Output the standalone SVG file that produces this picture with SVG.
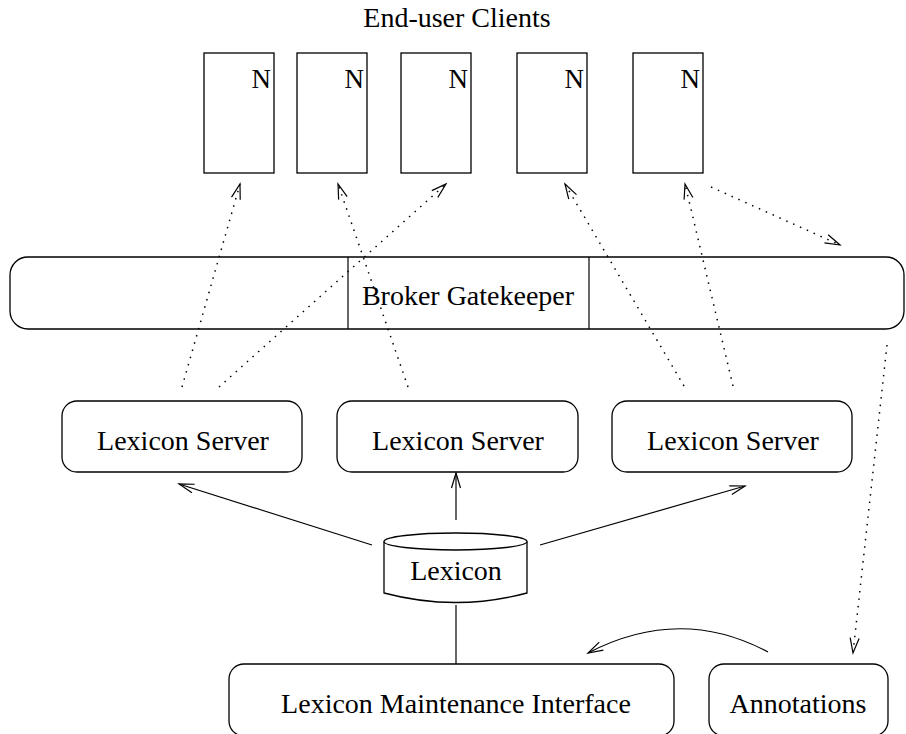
<svg xmlns="http://www.w3.org/2000/svg" width="906" height="734" viewBox="0 0 906 734">
<defs>
<style>
.box{fill:#fff;stroke:#000;stroke-width:1.3}
.t{font-family:"Liberation Serif","Times New Roman",serif;font-size:28px;fill:#000}
.n{font-family:"Liberation Serif","Times New Roman",serif;font-size:27px;fill:#000;text-anchor:end}
.c{text-anchor:middle}
.solid{fill:none;stroke:#000;stroke-width:1.2}
.dot{fill:none;stroke:#000;stroke-width:1.5;stroke-dasharray:1.5 6}
</style>
<marker id="ah" viewBox="-16 -6 18 12" markerWidth="18" markerHeight="12" refX="0" refY="0" orient="auto" markerUnits="userSpaceOnUse">
<path d="M-15,-4.5 L0,0 L-15,4.5" fill="none" stroke="#000" stroke-width="1.2"/>
</marker>
</defs>
<rect width="906" height="734" fill="#fff"/>

<text class="t c" x="457" y="27">End-user Clients</text>

<g id="client1"><rect class="box" x="204" y="53" width="70" height="120"/><text class="n" x="271" y="88">N</text></g>
<g id="client2"><rect class="box" x="297" y="53" width="70" height="120"/><text class="n" x="364" y="88">N</text></g>
<g id="client3"><rect class="box" x="401" y="53" width="70" height="120"/><text class="n" x="468" y="88">N</text></g>
<g id="client4"><rect class="box" x="517" y="53" width="70" height="120"/><text class="n" x="584" y="88">N</text></g>
<g id="client5"><rect class="box" x="633" y="53" width="70" height="120"/><text class="n" x="700" y="88">N</text></g>

<g id="broker">
<rect class="box" x="10" y="257" width="894" height="72" rx="18" ry="18"/>
<line class="solid" x1="348" y1="257" x2="348" y2="329"/>
<line class="solid" x1="589" y1="257" x2="589" y2="329"/>
<text class="t c" x="468" y="305">Broker Gatekeeper</text>
</g>

<g id="server1"><rect class="box" x="62" y="401" width="240" height="71" rx="15" ry="15"/><text class="t c" x="183" y="450">Lexicon Server</text></g>
<g id="server2"><rect class="box" x="337" y="401" width="241" height="71" rx="15" ry="15"/><text class="t c" x="458" y="450">Lexicon Server</text></g>
<g id="server3"><rect class="box" x="612" y="401" width="240" height="71" rx="15" ry="15"/><text class="t c" x="733" y="450">Lexicon Server</text></g>

<g id="lexicon">
<path class="box" d="M384,541.5 L384,593 Q455.5,612 527,593 L527,541.5"/>
<ellipse class="box" cx="455.5" cy="541.5" rx="71.5" ry="8.5"/>
<text class="t c" x="456" y="580">Lexicon</text>
</g>

<g id="maintenance"><rect class="box" x="229" y="664" width="445" height="72" rx="15" ry="15"/><text class="t c" x="456" y="713">Lexicon Maintenance Interface</text></g>
<g id="annotations"><rect class="box" x="709" y="664" width="179" height="72" rx="15" ry="15"/><text class="t c" x="798" y="713">Annotations</text></g>

<g id="connectors">
<line class="solid" x1="456" y1="520" x2="456" y2="473" marker-end="url(#ah)"/>
<line class="solid" x1="372" y1="545" x2="179" y2="484" marker-end="url(#ah)"/>
<line class="solid" x1="540" y1="545" x2="745" y2="486" marker-end="url(#ah)"/>
<line class="solid" x1="456" y1="605" x2="456" y2="664"/>
<path class="solid" d="M768,652 Q680,605 588,653" marker-end="url(#ah)"/>
<line class="dot" x1="182" y1="387" x2="240" y2="184" marker-end="url(#ah)"/>
<line class="dot" x1="219" y1="387" x2="446" y2="184" marker-end="url(#ah)"/>
<line class="dot" x1="408" y1="387" x2="338" y2="184" marker-end="url(#ah)"/>
<line class="dot" x1="684" y1="386" x2="565" y2="184" marker-end="url(#ah)"/>
<line class="dot" x1="733" y1="386" x2="685" y2="184" marker-end="url(#ah)"/>
<line class="dot" x1="711" y1="187" x2="840" y2="245" marker-end="url(#ah)"/>
<line class="dot" x1="887" y1="345" x2="853" y2="653" marker-end="url(#ah)"/>
</g>
</svg>
